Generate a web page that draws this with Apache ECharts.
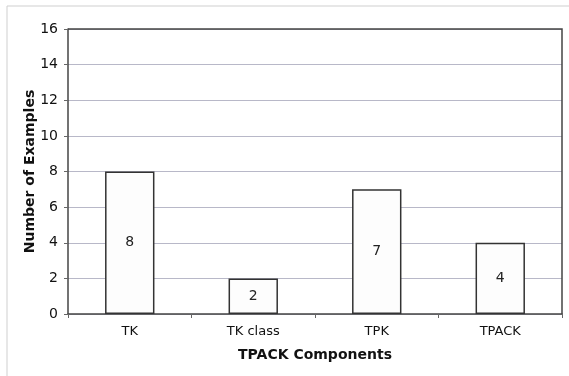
<!DOCTYPE html>
<html><head><meta charset="utf-8">
<script src="https://cdn.jsdelivr.net/npm/echarts@6/dist/echarts.min.js"></script>
<style>html,body{margin:0;padding:0;background:#fff}#c{width:569px;height:376px}</style>
</head><body><div id="c"></div>
<script>
const categories = ['TK', 'TK class', 'TPK', 'TPACK'];
const values = [8, 2, 7, 4];
const yTicks = [0, 2, 4, 6, 8, 10, 12, 14, 16];

const chart = echarts.init(document.getElementById('c'));
const font = 'DejaVu Sans, Verdana, sans-serif';
chart.setOption({
  animation: false,
  backgroundColor: '#fff',
  grid: { left: 68, right: 7, top: 29, bottom: 62, containLabel: false },
  xAxis: {
    type: 'category', data: categories,
    name: 'TPACK Components', nameLocation: 'middle', nameGap: 34, nameMoveOverlap: false,
    nameTextStyle: { fontFamily: font, fontSize: 14, fontWeight: 'bold', color: '#111' },
    axisLine: { lineStyle: { color: '#444', width: 1.5 } },
    axisTick: { show: true, alignWithLabel: false, length: 4, lineStyle: { color: '#666' } },
    axisLabel: { fontFamily: font, fontSize: 13, color: '#111', margin: 11 }
  },
  yAxis: {
    type: 'value', min: 0, max: 16, interval: 2,
    name: 'Number of Examples', nameLocation: 'middle', nameGap: 31, nameMoveOverlap: false,
    nameTextStyle: { fontFamily: font, fontSize: 14, fontWeight: 'bold', color: '#111' },
    axisLine: { show: true, lineStyle: { color: '#444', width: 1.5 } },
    axisTick: { show: true, length: 4, lineStyle: { color: '#666' } },
    axisLabel: { fontFamily: font, fontSize: 14, color: '#111', margin: 10,
      formatter: v => yTicks.includes(v) ? String(v) : '' },
    splitLine: { show: true, lineStyle: { color: '#b8b8c8', width: 1 } }
  },
  series: [{
    type: 'bar', data: values, barWidth: '40%',
    itemStyle: { color: '#fdfdfd', borderColor: '#333', borderWidth: 1.5 },
    label: { show: true, position: 'inside', fontFamily: font, fontSize: 14, color: '#222' }
  }],
  graphic: [{
    type: 'polyline', shape: { points: [[7, 376], [7, 6], [569, 6]] },
    style: { stroke: '#cfcfcf', lineWidth: 1, fill: null }
  }, {
    type: 'polyline', shape: { points: [[68, 29], [562, 29], [562, 314]] },
    style: { stroke: '#444', lineWidth: 1.5, fill: null }, z: 10
  }]
});
</script></body></html>
